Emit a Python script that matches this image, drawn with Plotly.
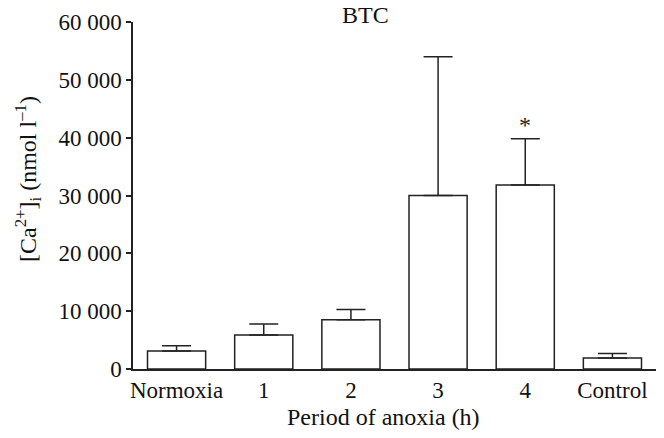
import plotly.graph_objects as go

categories = ["Normoxia", "1", "2", "3", "4", "Control"]
means = [3100, 5900, 8500, 30000, 31800, 1900]
errors = [900, 1900, 1800, 24000, 8000, 800]
significance = ["", "", "", "", "*", ""]
y_ticks = [0, 10000, 20000, 30000, 40000, 50000, 60000]

FONT = "Liberation Serif, Times New Roman, serif"

fig = go.Figure()
fig.add_trace(go.Bar(
    x=categories, y=means,
    width=0.667,
    marker=dict(color="white", line=dict(color="#222", width=1.5)),
    error_y=dict(type="data", array=errors, symmetric=False, arrayminus=[0]*len(errors),
                 color="#222", thickness=1.5, width=14.5),
    showlegend=False,
))

for c, m, e, s in zip(categories, means, errors, significance):
    if s:
        fig.add_annotation(x=c, y=m + e, text=s, showarrow=False, yshift=14,
                           font=dict(family=FONT, size=24, color="#222"))

fig.add_annotation(xref="paper", yref="paper", x=(365 - 133) / 523, y=1, yshift=7,
                   yanchor="middle",
                   text="BTC", showarrow=False, font=dict(family=FONT, size=24, color="#111"))
fig.add_annotation(xref="paper", yref="paper", x=(383 - 133) / 523, y=0, yshift=-48,
                   yanchor="middle",
                   text="Period of anoxia (h)", showarrow=False, font=dict(family=FONT, size=24, color="#111"))
fig.add_annotation(xref="paper", yref="paper", x=0, xshift=-105, y=(369 - 179) / 347,
                   textangle=-90, xanchor="center", yanchor="middle",
                   text="[Ca<sup>2+</sup>]<sub>i</sub> (nmol l<sup>\u20131</sup>)", showarrow=False,
                   font=dict(family=FONT, size=24, color="#111"))

fig.update_layout(
    width=664, height=438,
    margin=dict(l=133, r=8, t=22, b=69),
    plot_bgcolor="white", paper_bgcolor="white",
    separators=". ",
    font=dict(family=FONT, size=23, color="#111"),
    bargap=0.333,
)
fig.update_xaxes(range=[-0.5, 5.5], showline=True, linecolor="#222", linewidth=1.5,
                 ticks="", showgrid=False, zeroline=False,
                 tickfont=dict(family=FONT, size=23, color="#111"))
fig.update_yaxes(range=[0, 60000], tickvals=y_ticks, tickformat=",d",
                 showline=True, linecolor="#222", linewidth=1.5,
                 ticks="outside", ticklen=5, tickwidth=1.5, tickcolor="#222",
                 showgrid=False, zeroline=False,
                 tickfont=dict(family=FONT, size=23, color="#111"))

fig.write_html("out.html")
